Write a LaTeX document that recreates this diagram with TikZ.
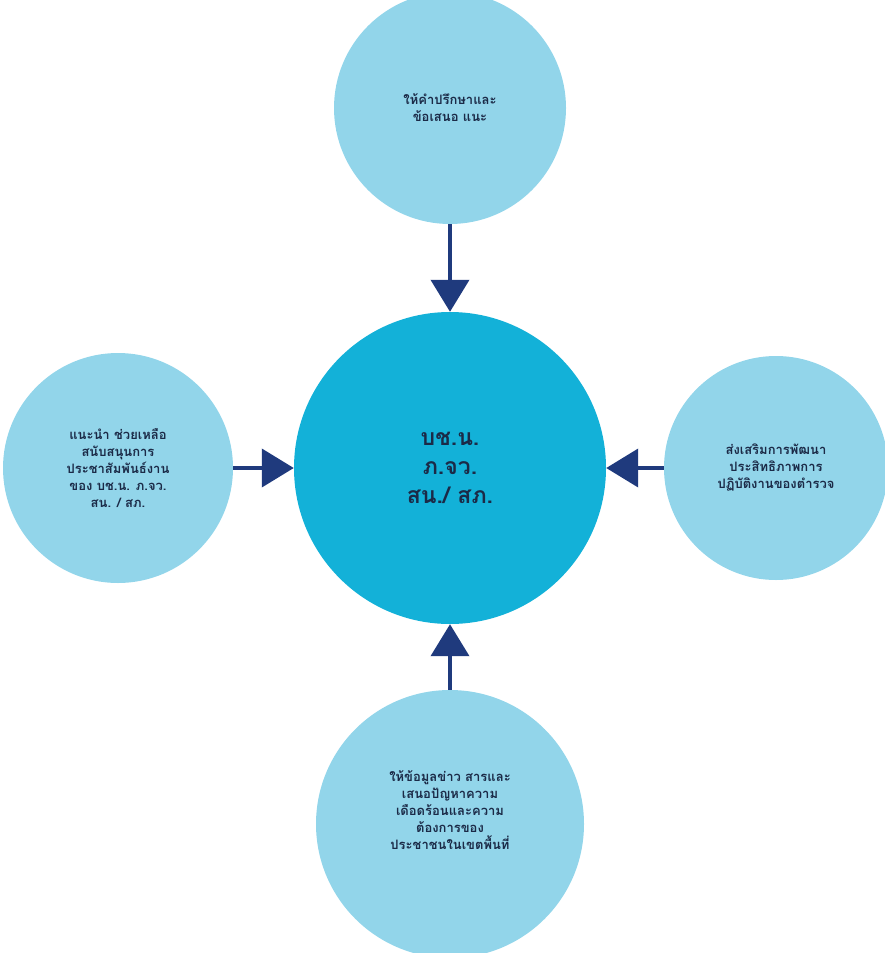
\documentclass[tikz,border=0pt]{standalone}
\usepackage{fontspec}
\newfontfamily\thaifont[Script=Thai]{Loma}
\usetikzlibrary{arrows.meta}
\definecolor{lightblue}{HTML}{92D5EA}
\definecolor{hubblue}{HTML}{13B1D8}
\definecolor{navy}{HTML}{1F3A7D}
\definecolor{ink}{HTML}{1B2A47}
\begin{document}
\begin{tikzpicture}[x=1pt, y=-1pt,
    bubble/.style={circle, fill=lightblue, inner sep=0pt, minimum size=#1,
        align=center, text=ink, font=\thaifont\bfseries\fontsize{13}{17}\selectfont},
    hub/.style={circle, fill=hubblue, inner sep=0pt, minimum size=312pt,
        align=center, text=ink, font=\thaifont\bfseries\fontsize{23}{29}\selectfont},
    arr/.style={navy, line width=4pt, -{Triangle[length=32pt, width=38pt]}}]
    \useasboundingbox (0,0) rectangle (885,953);

    % centre and the four surrounding circles
    \node[hub] (ctr) at (450,468) {บช.น.\\ภ.จว.\\สน./ สภ.};
    \node[bubble=232pt] (top) at (450,108) {ให้คำปรึกษาและ\\ข้อเสนอ แนะ};
    \node[bubble=230pt] (left) at (118,468)
        {แนะนำ ช่วยเหลือ\\สนับสนุนการ\\ประชาสัมพันธ์งาน\\ของ บช.น. ภ.จว.\\สน. / สภ.};
    \node[bubble=224pt] (right) at (776,468)
        {ส่งเสริมการพัฒนา\\ประสิทธิภาพการ\\ปฏิบัติงานของตำรวจ};
    \node[bubble=268pt] (bottom) at (450,824)
        {ให้ข้อมูลข่าว สารและ\\เสนอปัญหาความ\\เดือดร้อนและความ\\ต้องการของ\\ประชาชนในเขตพื้นที่\\[10pt]};

    % arrows towards the centre
    \draw[arr] (top) -- (ctr);
    \draw[arr] (left) -- (ctr);
    \draw[arr] (right) -- (ctr);
    \draw[arr] (bottom) -- (ctr);

\end{tikzpicture}
\end{document}
